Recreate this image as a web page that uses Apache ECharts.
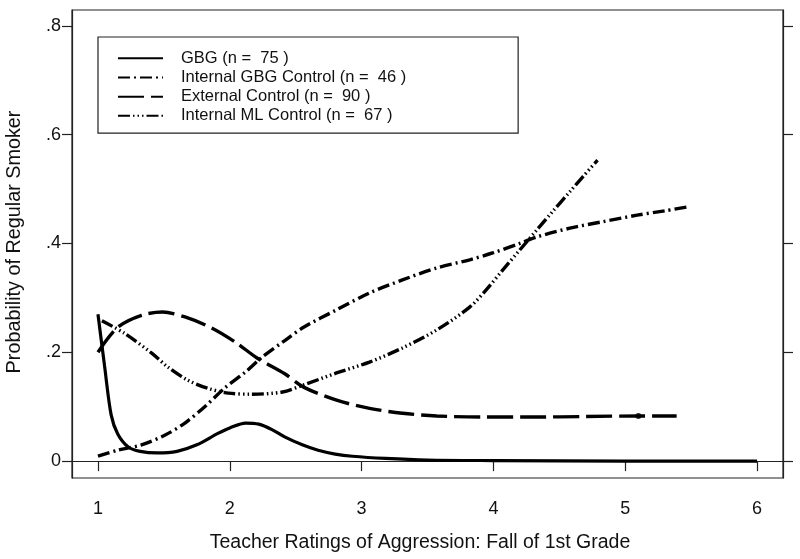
<!DOCTYPE html>
<html>
<head>
<meta charset="utf-8">
<script src="https://cdn.jsdelivr.net/npm/echarts@6/dist/echarts.min.js"></script>
<style>
html,body{margin:0;padding:0;background:#fff;}
#chart{width:800px;height:559px;}
</style>
</head>
<body>
<div id="chart"></div>
<script>
// ---- data ----
const seriesNames = [
  'GBG (n =  75 )',
  'Internal GBG Control (n =  46 )',
  'External Control (n =  90 )',
  'Internal ML Control (n =  67 )'
];
const gbgX = [1.00, 1.05, 1.10, 1.15, 1.23, 1.32, 1.45, 1.60, 1.75, 1.91, 2.00, 2.12, 2.22, 2.32, 2.42, 2.55, 2.67, 2.80, 2.93, 3.18, 3.50, 4.00, 5.00, 6.00];
const gbgY = [0.270, 0.175, 0.085, 0.050, 0.026, 0.018, 0.015, 0.018, 0.030, 0.051, 0.061, 0.070, 0.068, 0.058, 0.044, 0.030, 0.020, 0.013, 0.009, 0.005, 0.002, 0.001, 0.000, 0.000];
const intGbgX = [1.00, 1.15, 1.33, 1.51, 1.66, 1.81, 1.96, 2.12, 2.24, 2.42, 2.56, 2.81, 3.06, 3.31, 3.57, 3.82, 4.00, 4.20, 4.33, 4.58, 4.83, 5.09, 5.30, 5.47];
const intGbgY = [0.009, 0.020, 0.030, 0.048, 0.070, 0.100, 0.134, 0.164, 0.190, 0.222, 0.246, 0.278, 0.309, 0.333, 0.355, 0.370, 0.383, 0.400, 0.412, 0.428, 0.440, 0.452, 0.460, 0.467];
const extX = [1.00, 1.15, 1.33, 1.49, 1.66, 1.86, 2.04, 2.21, 2.42, 2.56, 2.81, 3.06, 3.31, 3.57, 3.92, 4.30, 4.70, 5.10, 5.39];
const extY = [0.200, 0.246, 0.268, 0.274, 0.265, 0.245, 0.219, 0.189, 0.160, 0.136, 0.112, 0.097, 0.088, 0.083, 0.081, 0.081, 0.082, 0.083, 0.083];
const mlX = [1.03, 1.20, 1.41, 1.53, 1.68, 1.83, 1.99, 2.17, 2.40, 2.56, 2.81, 3.06, 3.31, 3.57, 3.82, 3.95, 4.07, 4.20, 4.33, 4.45, 4.58, 4.68, 4.79];
const mlY = [0.258, 0.235, 0.198, 0.173, 0.149, 0.134, 0.125, 0.123, 0.127, 0.140, 0.162, 0.182, 0.208, 0.241, 0.283, 0.316, 0.351, 0.388, 0.425, 0.459, 0.495, 0.523, 0.553];
const extMarkX = [5.10];
const extMarkY = [0.083];
const xTicks = [1, 2, 3, 4, 5, 6];
const yTicks = [0, 0.2, 0.4, 0.6, 0.8];
const xTitle = 'Teacher Ratings of Aggression: Fall of 1st Grade';
const yTitle = 'Probability of Regular Smoker';

const FONT = '"Liberation Sans", Arial, Helvetica, sans-serif';
const zip = (xs, ys) => xs.map((x, i) => [x, ys[i]]);
const yFmt = v => (Math.abs(v) < 1e-9 ? '0' : String(Math.round(v * 10) / 10).replace(/^0\./, '.'));

const axisLineStyle = { color: '#222', width: 1.2 };

const chart = echarts.init(document.getElementById('chart'), null, { renderer: 'canvas' });
const lineBase = (name, data, dash, width) => ({
  name, type: 'line', data, showSymbol: false, symbol: 'circle',
  smooth: 0.3,
  lineStyle: { color: '#000', width: width, type: dash, cap: 'butt' },
  itemStyle: { color: '#000' },
  animation: false, silent: true
});

chart.setOption({
  animation: false,
  backgroundColor: '#fff',
  textStyle: { fontFamily: FONT },
  grid: {
    left: 72, right: 17, top: 10, bottom: 81,
    containLabel: false, outerBoundsMode: 'none',
    show: true, borderColor: '#222', borderWidth: 1.2, backgroundColor: 'transparent'
  },
  legend: {
    orient: 'vertical', left: 98, top: 37,
    padding: [12.75, 112, 8.75, 19],
    itemWidth: 45, itemHeight: 14, itemGap: 2.2,
    borderColor: '#222', borderWidth: 1.2,
    data: seriesNames,
    itemStyle: { opacity: 0 },
    textStyle: { fontFamily: FONT, fontSize: 16.5, lineHeight: 16.5, color: '#111', padding: [0, 0, 0, 13] },
    selectedMode: false
  },
  xAxis: {
    type: 'value', min: 0.803, max: 6.197,
    axisLine: { show: true, lineStyle: axisLineStyle },
    axisTick: { show: true, length: 10, inside: false, customValues: xTicks, lineStyle: axisLineStyle },
    axisLabel: { customValues: xTicks, margin: 22, fontSize: 18, color: '#111', fontFamily: FONT },
    splitLine: { show: false },
    name: xTitle, nameLocation: 'middle', nameGap: 55,
    nameTextStyle: { fontSize: 19.5, color: '#111', fontFamily: FONT, padding: [0, 15, 0, 0] }
  },
  yAxis: [{
    type: 'value', min: -0.031, max: 0.829, position: 'left',
    axisLine: { show: true, lineStyle: axisLineStyle },
    axisTick: { show: true, length: 10, inside: false, customValues: yTicks, lineStyle: axisLineStyle },
    axisLabel: { customValues: yTicks, margin: 11, fontSize: 18, color: '#111', fontFamily: FONT, formatter: yFmt },
    splitLine: { show: false },
    name: yTitle, nameLocation: 'middle', nameGap: 47, nameRotate: 90,
    nameTextStyle: { fontSize: 19.8, color: '#111', fontFamily: FONT, padding: [0, 0, 0, 4] }
  }, {
    type: 'value', min: -0.031, max: 0.829, position: 'right',
    axisLine: { show: true, lineStyle: axisLineStyle },
    axisTick: { show: true, length: 10, inside: false, customValues: yTicks, lineStyle: axisLineStyle },
    axisLabel: { show: false },
    splitLine: { show: false }
  }],
  series: [
    lineBase(seriesNames[0], zip(gbgX, gbgY), 'solid', 3.2),
    lineBase(seriesNames[1], zip(intGbgX, intGbgY), [12, 4, 2, 4], 3.4),
    lineBase(seriesNames[2], zip(extX, extY), [26, 7], 3.4),
    lineBase(seriesNames[3], zip(mlX, mlY), [12, 3, 1.5, 3, 1.5, 3, 1.5, 3], 3.4),
    {
      type: 'scatter', data: zip(extMarkX, extMarkY), symbol: 'circle', symbolSize: 6,
      itemStyle: { color: '#000' }, silent: true, animation: false
    }
  ]
});
</script>
</body>
</html>
